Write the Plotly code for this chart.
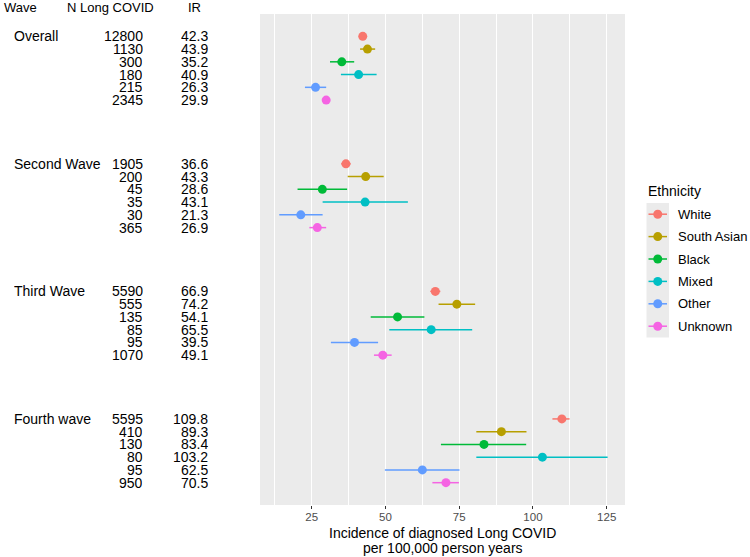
import plotly.graph_objects as go

W, H = 750, 557

waves = ["Overall", "Second Wave", "Third Wave", "Fourth wave"]
ethnicities = ["White", "South Asian", "Black", "Mixed", "Other", "Unknown"]
colors = ["#F8766D", "#B79F00", "#00BA38", "#00BFC4", "#619CFF", "#F564E3"]

# rows: per wave, per ethnicity (order as ethnicities)
n_long_covid = [
    [12800, 1130, 300, 180, 215, 2345],
    [1905, 200, 45, 35, 30, 365],
    [5590, 555, 135, 85, 95, 1070],
    [5595, 410, 130, 80, 95, 950],
]
ir = [
    [42.3, 43.9, 35.2, 40.9, 26.3, 29.9],
    [36.6, 43.3, 28.6, 43.1, 21.3, 26.9],
    [66.9, 74.2, 54.1, 65.5, 39.5, 49.1],
    [109.8, 89.3, 83.4, 103.2, 62.5, 70.5],
]
lower = [
    [41.6, 41.4, 31.2, 34.9, 22.7, 28.8],
    [35.0, 37.2, 20.2, 28.7, 14.0, 24.2],
    [65.2, 68.0, 45.0, 51.3, 31.5, 46.1],
    [106.6, 80.8, 68.8, 80.8, 49.8, 65.9],
]
upper = [
    [43.0, 46.5, 39.4, 47.0, 29.9, 31.0],
    [38.2, 49.4, 37.0, 57.6, 28.7, 29.9],
    [68.6, 80.4, 63.2, 79.4, 47.5, 52.1],
    [112.4, 97.8, 97.7, 125.3, 75.1, 74.9],
]
x_ticks = [25, 50, 75, 100, 125]
x_title = ["Incidence of diagnosed Long COVID", "per 100,000 person years"]

GROUP_STEP = 10  # 6 rows + 4 blank rows
def ypos(g, r):
    return g * GROUP_STEP + r

def px(x):
    return x / W
def py(y):
    return 1 - y / H

FONT = "Liberation Sans, Arial, sans-serif"
ROW_BOX = 12

fig = go.Figure()
for e, (eth, col) in enumerate(zip(ethnicities, colors)):
    xs = [ir[g][e] for g in range(len(waves))]
    ys = [ypos(g, e) for g in range(len(waves))]
    plus = [upper[g][e] - ir[g][e] for g in range(len(waves))]
    minus = [ir[g][e] - lower[g][e] for g in range(len(waves))]
    fig.add_trace(go.Scatter(
        x=xs, y=ys, mode="markers", name=eth, showlegend=False,
        marker=dict(color=col, size=9, line=dict(width=0)),
        error_x=dict(type="data", symmetric=False, array=plus, arrayminus=minus,
                     color=col, thickness=1.5, width=0),
    ))

annotations = []
# header
annotations.append(dict(x=px(2), y=py(7.5), xref="paper", yref="paper", text="Wave",
                        showarrow=False, xanchor="left", yanchor="middle",
                        font=dict(size=13, color="black", family=FONT)))
annotations.append(dict(x=px(110), y=py(7.5), xref="paper", yref="paper", text="N Long COVID",
                        showarrow=False, xanchor="center", yanchor="middle",
                        font=dict(size=13, color="black", family=FONT)))
annotations.append(dict(x=px(194), y=py(7.5), xref="paper", yref="paper", text="IR",
                        showarrow=False, xanchor="center", yanchor="middle",
                        font=dict(size=13, color="black", family=FONT)))
for g, wname in enumerate(waves):
    annotations.append(dict(x=px(13), y=ypos(g, 0), xref="paper", yref="y", text=wname,
                            showarrow=False, xanchor="left", yanchor="middle",
                            height=ROW_BOX, borderpad=0,
                            font=dict(size=14, color="black", family=FONT)))
    for r in range(len(ethnicities)):
        annotations.append(dict(x=px(144), y=ypos(g, r), xref="paper", yref="y",
                                text=str(n_long_covid[g][r]), showarrow=False,
                                xanchor="right", yanchor="middle",
                                height=ROW_BOX, borderpad=0,
                                font=dict(size=14, color="black", family=FONT)))
        annotations.append(dict(x=px(209), y=ypos(g, r), xref="paper", yref="y",
                                text=f"{ir[g][r]:.1f}", showarrow=False,
                                xanchor="right", yanchor="middle",
                                height=ROW_BOX, borderpad=0,
                                font=dict(size=14, color="black", family=FONT)))
# x axis title (two lines)
annotations.append(dict(x=px(442.5), y=py(533), xref="paper", yref="paper", text=x_title[0],
                        showarrow=False, xanchor="center", yanchor="middle",
                        font=dict(size=14, color="black", family=FONT)))
annotations.append(dict(x=px(442.5), y=py(548), xref="paper", yref="paper", text=x_title[1],
                        showarrow=False, xanchor="center", yanchor="middle",
                        font=dict(size=14, color="black", family=FONT)))

# legend (manual)
shapes = []
annotations.append(dict(x=px(646), y=py(190.5), xref="paper", yref="paper", text="Ethnicity",
                        showarrow=False, xanchor="left", yanchor="middle",
                        font=dict(size=14, color="black", family=FONT)))
key_top, key_h = 203, 22.4
shapes.append(dict(type="rect", xref="paper", yref="paper",
                   x0=px(646.5), x1=px(669), y0=py(key_top), y1=py(key_top + key_h * len(ethnicities)),
                   fillcolor="#EBEBEB", line=dict(width=0), layer="below"))
for i, (eth, col) in enumerate(zip(ethnicities, colors)):
    cy = key_top + key_h * (i + 0.5)
    shapes.append(dict(type="line", xref="paper", yref="paper",
                       x0=px(648.5), x1=px(667), y0=py(cy), y1=py(cy),
                       line=dict(color=col, width=1.5)))
    shapes.append(dict(type="circle", xref="paper", yref="paper",
                       x0=px(657.75 - 4.5), x1=px(657.75 + 4.5), y0=py(cy - 4.5), y1=py(cy + 4.5),
                       fillcolor=col, line=dict(width=0)))
    annotations.append(dict(x=px(675.5), y=py(cy), xref="paper", yref="paper", text=eth,
                            showarrow=False, xanchor="left", yanchor="middle",
                            font=dict(size=13, color="black", family=FONT)))

n_pos = (len(waves) - 1) * GROUP_STEP + len(ethnicities) - 1
pad = n_pos * 0.05

fig.update_layout(
    width=W, height=H,
    margin=dict(l=0, r=0, t=0, b=0),
    paper_bgcolor="white", plot_bgcolor="#EBEBEB",
    font=dict(family=FONT),
    showlegend=False,
    xaxis=dict(domain=[px(260), px(625)], range=[7.47, 131.2],
               tickvals=x_ticks, ticktext=[str(t) for t in x_ticks],
               showgrid=True, gridcolor="white", gridwidth=1.1,
               minor=dict(tick0=12.5, dtick=25, showgrid=True, gridcolor="white", gridwidth=0.5, ticks=""),
               zeroline=False, showline=False,
               ticks="outside", ticklen=3, tickcolor="#333333", tickwidth=1,
               ticklabelstandoff=-2,
               tickfont=dict(size=11.5, color="#4D4D4D", family=FONT)),
    yaxis=dict(domain=[py(505), py(14)], range=[n_pos + pad, -pad],
               showgrid=False, zeroline=False, showticklabels=False, ticks="", showline=False),
    annotations=annotations,
    shapes=shapes,
)

fig.write_html("out.html")
